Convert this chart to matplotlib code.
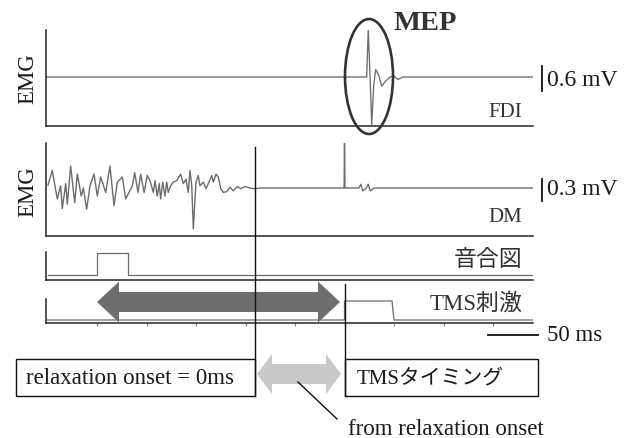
import matplotlib
matplotlib.use('Agg')
import matplotlib.pyplot as plt
from matplotlib.patches import Ellipse, FancyArrow, Rectangle

plt.rcParams['font.family'] = ['Liberation Serif', 'Noto Sans CJK JP']

# ---------------- data (time in ms, amplitude in mV) ----------------
fdi_t = [-1.5, 322.4, 324.0, 325.8, 327.5, 329.5, 331.5, 334.5, 337.6, 341.5,
         346.0, 350.0, 354.0, 359.0, 490.0]
fdi_v = [0.0, 0.0, 1.14, 0.0, -1.14, -0.2, 0.18, 0.05, -0.22, -0.1,
         0.0, 0.02, -0.06, 0.0, 0.0]

dm_t = [0.5, 4.8, 9.9, 13.3, 14.9, 18.4, 20.0, 23.4, 27.5, 30.1, 34.1, 36.2,
        39.6, 42.9, 47.0, 50.3, 53.7, 58.8, 63.1, 67.2, 70.5, 75.6, 79.0, 82.3,
        85.7, 88.1, 91.4, 94.1, 97.5, 100.8, 103.5, 106.9, 108.6, 110.9, 112.9,
        114.3, 116.4, 118.7, 120.4, 122.0, 124.4, 127.1, 130.5, 134.5, 137.2,
        139.9, 142.2, 143.9, 145.7, 147.3, 150.0, 152.3, 154.0, 157.4, 160.1,
        162.4, 165.9, 167.5, 170.2, 172.5, 175.0, 177.6, 181.0, 184.3, 187.7,
        191.7, 195.2, 199.5, 204.5, 209.6, 214.6, 294.5, 299.6, 300.0, 300.5,
        314.5, 316.5, 318.5, 322.0, 324.0, 326.0, 330.0, 490.0]
dm_v = [0.04, 0.24, -0.15, 0.03, -0.28, 0.06, -0.22, 0.30, -0.20, 0.19, -0.11,
        0.00, -0.29, 0.03, 0.19, -0.11, 0.15, -0.06, 0.30, -0.24, 0.08, 0.15,
        -0.15, -0.06, 0.03, 0.21, -0.06, 0.19, -0.06, 0.17, 0.10, -0.06, 0.10,
        -0.11, 0.06, -0.15, 0.08, -0.11, 0.08, -0.06, 0.03, 0.08, 0.10, 0.19,
        0.06, 0.12, -0.06, 0.24, 0.03, -0.56, 0.08, 0.17, 0.03, 0.08, -0.01,
        0.06, 0.17, 0.08, 0.19, 0.15, -0.01, -0.06, -0.05, 0.01, -0.04, 0.02,
        -0.01, 0.02, 0.00, -0.01, 0.00, 0.00, 0.00, 0.61, 0.00, 0.00, 0.05,
        -0.04, 0.00, 0.05, -0.04, 0.00, 0.00]

cue_t = [0, 50, 50, 81, 81, 490]
cue_v = [0, 0, 1, 1, 0, 0]
tms_t = [0, 300, 300, 348, 350, 490]
tms_v = [0, 0, 1, 1, 0, 0]

relax_onset = 210
tms_time = 300
tick_ms = [50, 100, 150, 200, 250, 300, 350, 400, 450]
fdi_scale_mv = 0.6
dm_scale_mv = 0.3
time_scale_ms = 50

emg_label = 'EMG'
mep_label = 'MEP'
fdi_label = 'FDI'
dm_label = 'DM'
cue_label = '音合図'
tms_label = 'TMS刺激'
fdi_scale_label = '0.6 mV'
dm_scale_label = '0.3 mV'
time_scale_label = '50 ms'
relax_box_label = 'relaxation onset = 0ms'
tms_box_label = 'TMSタイミング'
interval_label = 'from relaxation onset'

# ---------------- layout ----------------
W, H = 635, 439
T0_PX, PX_PER_MS = 47.5, 0.99


def P(px):
    return (px - T0_PX) / PX_PER_MS


XLIM = (P(46), P(533))
TRACE = '#6c6c6c'
AXC = '#262626'
TXT = '#1a1a1a'

fig = plt.figure(figsize=(W / 100, H / 100), dpi=100)
fig.patch.set_facecolor('white')


def panel(top, bottom, ylim):
    ax = fig.add_axes([46 / W, 1 - bottom / H, (533 - 46) / W, (bottom - top) / H])
    ax.set_xlim(XLIM)
    ax.set_ylim(ylim)
    ax.patch.set_visible(False)
    for s in ['top', 'right']:
        ax.spines[s].set_visible(False)
    for s in ['left', 'bottom']:
        ax.spines[s].set_linewidth(1.1)
        ax.spines[s].set_color(AXC)
    ax.set_xticks([])
    ax.set_yticks([])
    return ax


ax1 = panel(31, 127, (-1.176, 1.128))
ax1.plot(fdi_t, fdi_v, color=TRACE, lw=0.95)
ax1.plot([P(542)] * 2, [-0.33, -0.33 + fdi_scale_mv], color='#111', lw=1.3, clip_on=False)

ax2 = panel(144, 237, (-0.655, 0.614))
ax2.plot(dm_t, dm_v, color=TRACE, lw=1.0)
ax2.plot([P(542)] * 2, [-0.18, -0.18 + dm_scale_mv], color='#111', lw=1.3, clip_on=False)

ax3 = panel(253, 281, (-0.227, 1.045))
ax3.plot(cue_t, cue_v, color=TRACE, lw=0.9)

ax4 = panel(300, 324, (-0.158, 1.105))
ax4.plot(tms_t, tms_v, color=TRACE, lw=0.9)
ax4.set_xticks(tick_ms)
ax4.tick_params(axis='x', length=2.5, width=0.8, color='#888', labelbottom=False,
                direction='out')

# ---------------- overlay ----------------
ov = fig.add_axes([0, 0, 1, 1], zorder=5)
ov.set_xlim(P(0), P(W))
ov.set_ylim(H, 0)
ov.axis('off')
ov.patch.set_visible(False)


def double_arrow(x0, x1, y, width, head_width, head_len, color):
    mid = (x0 + x1) / 2
    ov_lap = 8
    ov.add_patch(FancyArrow(mid + ov_lap, y, x0 - mid - ov_lap, 0, width=width,
                            head_width=head_width, head_length=head_len,
                            length_includes_head=True, color=color, lw=0))
    ov.add_patch(FancyArrow(mid - ov_lap, y, x1 - mid + ov_lap, 0, width=width,
                            head_width=head_width, head_length=head_len,
                            length_includes_head=True, color=color, lw=0))


# dark double arrow: cue onset -> TMS
double_arrow(cue_t[1], tms_time - 4.5, 303, 20, 41, 22 / PX_PER_MS, '#6e6e6e')
# light double arrow: relaxation onset -> TMS
double_arrow(relax_onset + 1.6, tms_time - 3.5, 375, 20, 40, 15 / PX_PER_MS, '#c9c9c9')
midb = (relax_onset + tms_time) / 2

# vertical event lines
ov.plot([relax_onset] * 2, [148, 397], color='#111', lw=1.0)
ov.plot([tms_time] * 2, [285, 397], color='#111', lw=1.0)

# boxes
ov.add_patch(Rectangle((P(16), 360), relax_onset - P(16), 37, fill=False,
                       ec='#111', lw=1.0))
ov.add_patch(Rectangle((tms_time, 360), P(538) - tms_time, 37, fill=False,
                       ec='#111', lw=1.0))

# MEP ellipse
ov.add_patch(Ellipse((P(369), 77.5), 48 / PX_PER_MS, 115, fill=False,
                     ec='#333', lw=1.9))

# time scale bar
ov.plot([445, 445 + time_scale_ms], [336, 336], color='#111', lw=1.3)

# pointer line
ov.plot([midb - 2, P(337)], [383, 420], color='#111', lw=1.0)

# texts
ov.text(P(28), 79, emg_label, rotation=90, ha='center', va='center', fontsize=16.5, color=TXT)
ov.text(P(28), 192, emg_label, rotation=90, ha='center', va='center', fontsize=16.5, color=TXT)
ov.text(P(393), 24, mep_label, ha='left', va='center', fontsize=20.5, fontweight='bold',
        color='#333')
ov.text(P(522), 113, fdi_label, ha='right', va='center', fontsize=15, color='#333')
ov.text(P(522), 218, dm_label, ha='right', va='center', fontsize=15, color='#333')
ov.text(P(522), 260, cue_label, ha='right', va='center', fontsize=16.5, color='#333')
ov.text(P(522), 304, tms_label, ha='right', va='center', fontsize=16.5, color='#333')
ov.text(P(547), 80, fdi_scale_label, ha='left', va='center', fontsize=17, color=TXT)
ov.text(P(547), 190, dm_scale_label, ha='left', va='center', fontsize=17, color=TXT)
ov.text(P(547), 336, time_scale_label, ha='left', va='center', fontsize=16.5, color=TXT)
ov.text(P(26), 379, relax_box_label, ha='left', va='center', fontsize=16.5, color=TXT)
ov.text(P(357), 379, tms_box_label, ha='left', va='center', fontsize=15, color=TXT)
ov.text(P(348), 430, interval_label, ha='left', va='center', fontsize=16.5, color=TXT)

fig.savefig('out.png', dpi=100, facecolor='white')
